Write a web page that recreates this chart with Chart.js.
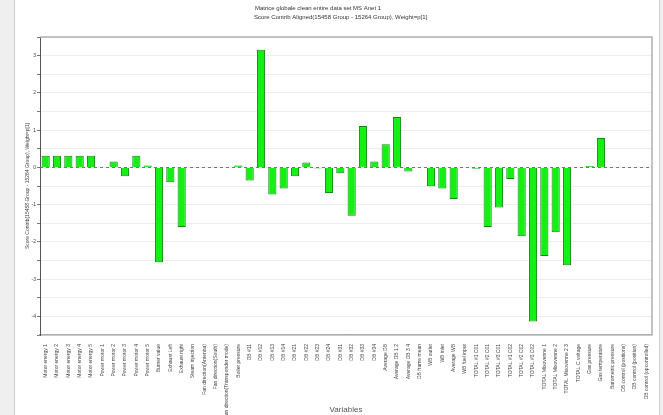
<!DOCTYPE html>
<html>
<head>
<meta charset="utf-8">
<script src="https://cdn.jsdelivr.net/npm/chart.js@4.4.1/dist/chart.umd.min.js"></script>
<style>
  html, body { margin: 0; padding: 0; background: #fff; }
  #plot { display: block; }
</style>
</head>
<body>
<canvas id="plot" width="663" height="415"></canvas>
<script>
const titleLines = [
    'Matrice globale clean entire data set MS Anet 1',
    'Score Contrib Aligned(15458 Group - 15264 Group), Weight=p[1]'
];
const yTitle = 'Score Contrib(15458 Group - 15264 Group), Weight=p[1]';
const xTitle = 'Variables';

const variables = [
    'Motor energy 1', 'Motor energy 2', 'Motor energy 3', 'Motor energy 4', 'Motor energy 5',
    'Power motor 1', 'Power motor 2', 'Power motor 3', 'Power motor 4', 'Power motor 5',
    'Burner value', 'Exhaust Left', 'Exhaust right', 'Steam injection',
    'Fan direction(Antenna)', 'Fan direction(South)', 'Fan direction(Transponder mode)',
    'Boiler pressure',
    'DB #11', 'DB #12', 'DB #13', 'DB #14', 'DB #21', 'DB #22', 'DB #23', 'DB #24',
    'DB #31', 'DB #32', 'DB #33', 'DB #34',
    'Average DB', 'Average DB 1 2', 'Average DB 3 4', 'DB frame mean',
    'WB outlet', 'WB inlet', 'Average WB', 'WB fuel input',
    'TOTAL #1 C01', 'TOTAL #2 C01', 'TOTAL #3 C01', 'TOTAL #1 C02', 'TOTAL #2 C02', 'TOTAL #3 C02',
    'TOTAL Mixovenne 1', 'TOTAL Mixovenne 2', 'TOTAL Mixovenne 2 3', 'TOTAL C voltage',
    'Gas pressure', 'Gas temperature', 'Barometric pressure',
    'DB control (positions)', 'DB control (position)', 'DB control (opcontrolled)'
];

const contrib = [
    0.31, 0.31, 0.31, 0.31, 0.31,
    0.02, 0.16, -0.24, 0.31, 0.05,
    -2.55, -0.40, -1.60, -0.01,
    0.00, 0.02, 0.00,
    0.05,
    -0.35, 3.16, -0.73, -0.57, -0.24, 0.13, -0.03, -0.69,
    -0.16, -1.30, 1.11, 0.16,
    0.62, 1.35, -0.11, 0.00,
    -0.51, -0.57, -0.85, 0.00,
    -0.04, -1.60, -1.08, -0.31, -1.85, -4.14,
    -2.38, -1.74, -2.63, 0.00,
    0.04, 0.79, 0.00,
    0.00, 0.00, 0.00
];

const yMin = -4.5;
const yMax = 3.5;

const FONT = 'Liberation Sans, Arial, sans-serif';

// window frame, header text, plot box and dashed zero line
const decorations = {
    id: 'decorations',
    beforeDraw(chart) {
        const c = chart.ctx;
        c.save();
        c.fillStyle = '#efefef';
        c.fillRect(0, 0, 14, chart.height);
        c.fillRect(660, 0, 3, chart.height);
        c.strokeStyle = '#cccccc';
        c.lineWidth = 1;
        c.beginPath();
        c.moveTo(14.5, 0); c.lineTo(14.5, chart.height);
        c.moveTo(659.5, 0); c.lineTo(659.5, chart.height);
        c.stroke();
        c.fillStyle = '#333';
        c.font = '6px ' + FONT;
        c.textBaseline = 'middle';
        c.fillText(titleLines[0], 255, 8);
        c.fillText(titleLines[1], 254, 17);
        c.restore();
    },
    beforeDatasetsDraw(chart) {
        const c = chart.ctx;
        const a = chart.chartArea;
        const y0 = chart.scales.y.getPixelForValue(0);
        c.save();
        c.strokeStyle = '#777';
        c.lineWidth = 1;
        c.setLineDash([3, 3]);
        c.beginPath();
        c.moveTo(a.left, Math.round(y0) + 0.5);
        c.lineTo(a.right, Math.round(y0) + 0.5);
        c.stroke();
        c.restore();
    },
    afterDraw(chart) {
        const c = chart.ctx;
        const a = chart.chartArea;
        c.save();
        c.strokeStyle = '#b0b0b0';
        c.lineWidth = 1.5;
        c.beginPath();
        c.moveTo(a.left, a.top); c.lineTo(a.right, a.top); c.lineTo(a.right, a.bottom);
        c.stroke();
        c.restore();
    }
};

new Chart(document.getElementById('plot'), {
    type: 'bar',
    data: {
        labels: variables,
        datasets: [{
            data: contrib,
            backgroundColor: '#14f014',
            borderColor: '#0b8a0b',
            borderWidth: 1,
            barPercentage: 0.72,
            categoryPercentage: 1
        }]
    },
    options: {
        responsive: false,
        animation: false,
        layout: { padding: { left: 17, top: 37, right: 11, bottom: 0 } },
        plugins: {
            legend: { display: false },
            title: { display: false },
            tooltip: { enabled: false }
        },
        scales: {
            x: {
                grid: { display: false },
                border: { color: '#aaaaaa', width: 1.5 },
                ticks: {
                    autoSkip: false,
                    minRotation: 90,
                    maxRotation: 90,
                    padding: 1,
                    color: '#444',
                    font: { family: FONT, size: 5 }
                },
                title: {
                    display: true,
                    text: xTitle,
                    color: '#555',
                    padding: 0,
                    font: { family: FONT, size: 8 }
                },
                afterFit: s => { s.height = 80; }
            },
            y: {
                min: yMin,
                max: yMax,
                grid: {
                    color: '#eeeeee',
                    tickColor: '#777',
                    tickLength: 3
                },
                border: { color: '#555', width: 1 },
                ticks: {
                    stepSize: 0.5,
                    padding: 1,
                    color: '#444',
                    font: { family: FONT, size: 5 },
                    callback: v => Number.isInteger(v) ? String(v) : ''
                },
                title: {
                    display: true,
                    text: yTitle,
                    color: '#444',
                    padding: { top: 8, bottom: 0 },
                    font: { family: FONT, size: 5 }
                },
                afterFit: s => { s.width = 23; }
            }
        }
    },
    plugins: [decorations]
});
</script>
</body>
</html>
